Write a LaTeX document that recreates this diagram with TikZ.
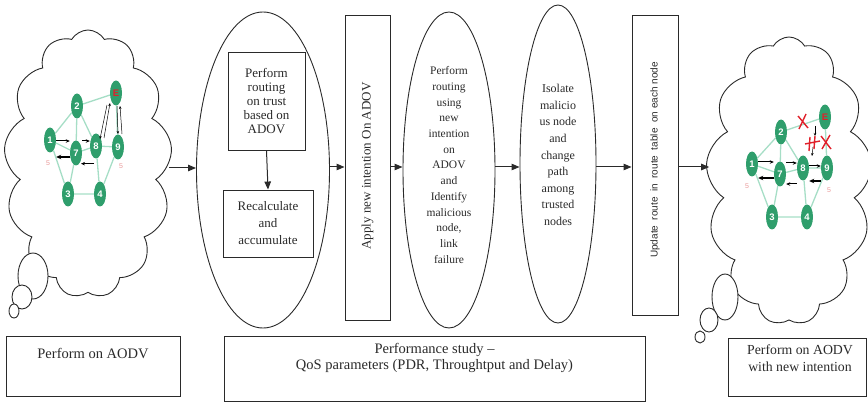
\documentclass[tikz,border=0pt]{standalone}
\usepackage{fontspec}
\setmainfont{Liberation Serif}
\newfontfamily\labelsans{Liberation Sans}
\usetikzlibrary{shapes.geometric,shapes.symbols,arrows.meta,calc,backgrounds}
\definecolor{ink}{HTML}{2A2A2A}
\definecolor{gnode}{HTML}{2F9E6C}
\definecolor{glink}{HTML}{A6DEC6}
\definecolor{cutred}{HTML}{E0202A}
\definecolor{tag}{HTML}{E99A9A}
\begin{document}
\begin{tikzpicture}[x=1pt,y=-1pt,
  outline/.style={draw=ink, line width=0.9pt},
  flow/.style={draw=ink, line width=1pt, -{Triangle[length=8pt,width=6.5pt]}},
  stage/.style={outline, ellipse, inner sep=0pt},
  panel/.style={outline, rectangle, inner sep=0pt},
  thought/.style={outline, cloud, cloud puffs=13, cloud puff arc=120, cloud ignores aspect, inner sep=0pt},
  bubble/.style={outline, fill=white},
  txt/.style={text=ink, align=center, inner sep=0pt},
  gn/.style={ellipse, fill=gnode, minimum width=12pt, minimum height=25pt, inner sep=0pt, text=white, font=\labelsans\bfseries\fontsize{9.5}{9.5}\selectfont},
  gl/.style={draw=glink, line width=1.3pt},
  ga/.style={draw=black, line width=1pt, -{Stealth[length=4pt,width=3.5pt]}},
  gaw/.style={draw=black, line width=1.6pt, -{Stealth[length=5pt,width=4.5pt]}},
  gat/.style={draw=black, line width=0.5pt, -{Stealth[length=3pt,width=2.5pt]}},
  cut/.style={draw=cutred, line width=1.4pt},
  hop/.style={text=tag, font=\labelsans\fontsize{7}{7}\selectfont, inner sep=0pt},
]
\useasboundingbox (0,0) rectangle (868,403);

% ---------- left thought cloud: plain AODV ----------
\node[thought, minimum width=168pt, minimum height=268pt] (cloudL) at (88,164) {};
\draw[bubble] (33,276) ellipse [x radius=15, y radius=23];
\draw[bubble] (22,297) ellipse [x radius=10, y radius=12];
\draw[bubble] (14,311) ellipse [x radius=5, y radius=7];

\node[gn] (L1) at (50,140) {1};
\node[gn] (L2) at (77,106) {2};
\node[gn, text=cutred] (LE) at (116,93) {E};
\node[gn] (L7) at (76,153) {7};
\node[gn] (L8) at (96,146) {8};
\node[gn] (L9) at (118,147) {9};
\node[gn] (L3) at (68,194) {3};
\node[gn] (L4) at (100,194) {4};
\begin{pgfonlayer}{background}
  \draw[gl] (L1)--(L2) (L2)--(LE) (L2)--(L7) (L2)--(L8) (L1)--(L7) (L7)--(L8)
            (L8)--(L9) (L1)--(L3) (L3)--(L4) (L4)--(L9) (L8)--(L4) (L7)--(L3) (LE)--(L9);
\end{pgfonlayer}
\draw[ga]  (L1.east |- 0,141) -- (L7.west |- 0,141);
\draw[gaw] (L7.west |- 0,157) -- (L1.east |- 0,157);
\draw[ga]  (L7.east |- 0,141) -- (L8.west |- 0,141);
\draw[ga]  ($(L8.south)+(-2,5)$) -- ($(L8.south)+(-15,5)$);
\draw[gat] ($(L8)+(8,-8)$) -- ($(LE)+(-6,10)$);
\draw[gat] ($(LE)+(-9,12)$) -- ($(L8)+(4,-7)$);
\draw[gat] ($(LE)+(1,13)$) -- ($(L9)+(0,-13)$);
\draw[gat] ($(L9)+(4,-13)$) -- ($(LE)+(4,13)$);
\node[hop] (L1tag) at (48,163) {5};
\node[hop] (L9tag) at (121,166) {5};

% ---------- stage 1: trust based routing ----------
\node[stage, minimum width=133pt, minimum height=316pt] (e1) at (263,170) {};
\node[panel, txt, minimum width=77pt, minimum height=98pt,
      font=\fontsize{13}{14.2}\selectfont] (trust) at (266.5,101)
      {Perform\\routing\\on trust\\based on\\ADOV};
\node[panel, txt, minimum width=90pt, minimum height=67pt,
      font=\fontsize{13}{17}\selectfont] (recalc) at (268,223.5)
      {Recalculate\\and\\accumulate};
\draw[flow] (trust.south) -- (recalc.north);

% ---------- stage 2: apply new intention ----------
\node[panel, minimum width=45pt, minimum height=305pt] (apply) at (367.5,167.5) {};
\node[txt, rotate=90, font=\fontsize{13}{13}\selectfont] (applytxt) at (367.5,166)
      {Apply new intention On ADOV};

% ---------- stage 3: routing with new intention ----------
\node[stage, minimum width=92pt, minimum height=316pt] (e2) at (449,170) {};
\node[txt, font=\fontsize{11.5}{15.7}\selectfont] (e2txt) at (449,165)
      {Perform\\routing\\using\\new\\intention\\on\\ADOV\\and\\Identify\\malicious\\node,\\link\\failure};

% ---------- stage 4: isolation ----------
\node[stage, minimum width=76pt, minimum height=318pt] (e3) at (558,164) {};
\node[txt, font=\fontsize{12}{16.6}\selectfont] (e3txt) at (558,155)
      {Isolate\\malicio\\us node\\and\\change\\path\\among\\trusted\\nodes};

% ---------- stage 5: route table update ----------
\node[panel, minimum width=46pt, minimum height=300pt] (update) at (655,165) {};
\node[txt, rotate=90, font=\labelsans\fontsize{10}{10}\selectfont] (updatetxt) at (655,160)
      {Update\ \ route\ \ in\ \ route\ \ table\ \ on\ each\ node};

% ---------- right thought cloud: AODV with new intention ----------
\node[thought, minimum width=166pt, minimum height=288pt] (cloudR) at (789,181) {};
\draw[bubble] (725,297) ellipse [x radius=13, y radius=23];
\draw[bubble] (709,320) ellipse [x radius=9, y radius=12];
\draw[bubble] (700,337) ellipse [x radius=5, y radius=6];

\node[gn] (R1) at (752,164) {1};
\node[gn] (R2) at (781,132) {2};
\node[gn, text=cutred] (RE) at (825,117) {E};
\node[gn] (R7) at (780,174) {7};
\node[gn] (R8) at (803,168) {8};
\node[gn] (R9) at (827,168) {9};
\node[gn] (R3) at (772,217) {3};
\node[gn] (R4) at (807,217) {4};
\begin{pgfonlayer}{background}
  \draw[gl] (R1)--(R2) (R2)--(RE) (R2)--(R7) (R2)--(R8) (R1)--(R7) (R7)--(R8)
            (R8)--(R9) (R1)--(R3) (R3)--(R4) (R4)--(R9) (R8)--(R4) (R7)--(R3) (RE)--(R9);
\end{pgfonlayer}
\draw[ga]  (R1.east |- 0,162) -- (R7.west |- 0,162);
\draw[gaw] (R7.west |- 0,178) -- (R1.east |- 0,178);
\draw[ga]  (R7.east |- 0,163) -- (R8.west |- 0,163);
\draw[ga]  (R8.east |- 0,166) -- (R9.west |- 0,166);
\draw[gaw] (R9.west |- 0,181) -- (R8.east |- 0,181);
\draw[ga]  (R8.west |- 0,184) -- (R7.east |- 0,184);
\draw[gat] ($(RE)+(-10,9)$) -- ($(RE)+(-10,19)$);
\draw[gat] ($(R8)+(10,-21)$) -- ($(R8)+(9,-12)$);
% broken links towards the malicious node
\draw[cut] (798,116) -- (808,128) (799,129) -- (806,114);
\draw[cut] (805,144) -- (820,141) (810,137) -- (809,151) (815,136) -- (814,149);
\draw[cut] (821,136) -- (831,149) (822,149) -- (830,135);
\node[hop] (R1tag) at (747,186) {5};
\node[hop] (R9tag) at (829,190) {5};

% ---------- flow between stages ----------
\draw[flow] (cloudL.east |- 0,168) -- (e1.west |- 0,168);
\draw[flow] (e1.east |- 0,167) -- (apply.west |- 0,167);
\draw[flow] (apply.east |- 0,167) -- (e2.west |- 0,167);
\draw[flow] (e2.east |- 0,167) -- (e3.west |- 0,167);
\draw[flow] (e3.east |- 0,167) -- (update.west |- 0,167);
\draw[flow] (update.east |- 0,167) -- (cloudR.west |- 0,167);

% ---------- captions ----------
\node[panel, minimum width=174pt, minimum height=60pt] (capL) at (93,366) {};
\node[txt, font=\fontsize{14.5}{16.5}\selectfont, anchor=center] (capLtxt) at (93,354) {Perform on AODV};
\node[panel, minimum width=421pt, minimum height=65pt] (capM) at (434.5,368.5) {};
\node[txt, font=\fontsize{14.5}{16.5}\selectfont] (capMtxt) at (434.5,358)
      {Performance study --\\QoS parameters (PDR, Throughtput and Delay)};
\node[panel, minimum width=138pt, minimum height=58pt] (capR) at (797,367) {};
\node[txt, font=\fontsize{13.8}{16.5}\selectfont] (capRtxt) at (800,358)
      {Perform on AODV\\with new intention};
\end{tikzpicture}
\end{document}
